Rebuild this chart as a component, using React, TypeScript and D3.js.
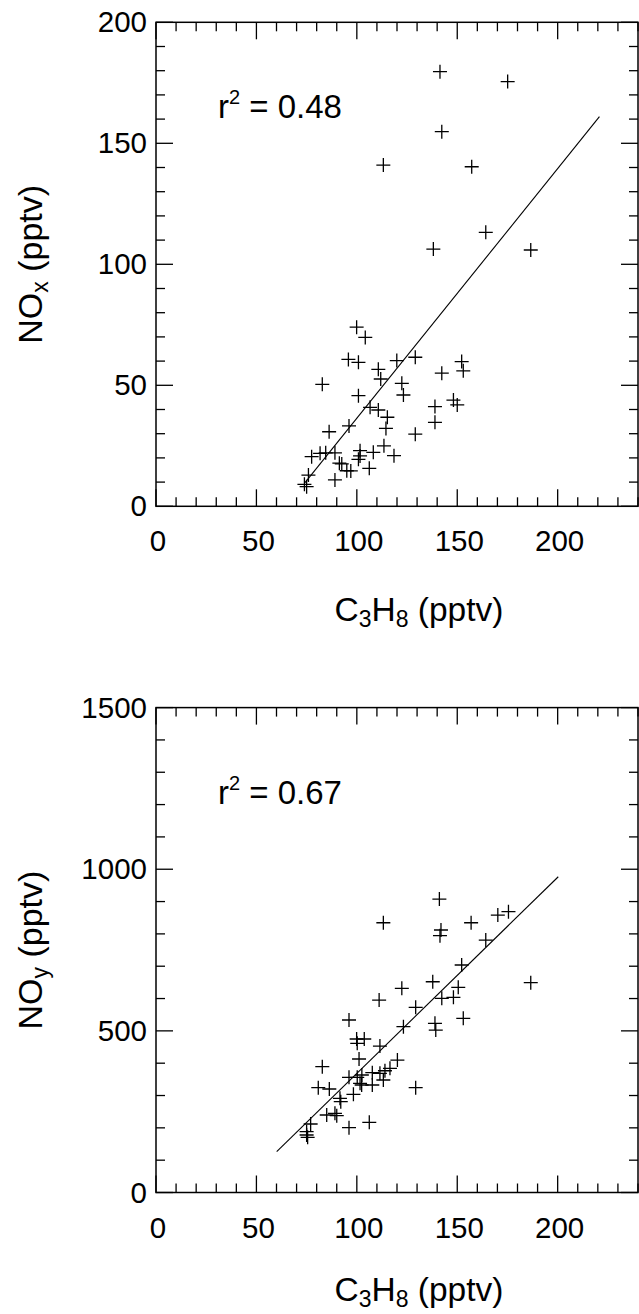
import React from "react";
import * as d3 from "d3";

// ---- data ----
const X_TICKS = [0, 50, 100, 150, 200];
const NOX_TICKS = [0, 50, 100, 150, 200];
const NOY_TICKS = [0, 500, 1000, 1500];

const c3h8A = [99.9, 104.2, 95.8, 100.8, 82.8, 110.7, 111.9, 119.9, 129.1, 122.4, 123.2, 100.8, 106.6, 110.7, 115.2, 114.5, 96.1, 86.2, 142.3, 152.2, 153.0, 138.9, 148.1, 150.0, 138.9, 129.1, 113.5, 118.5, 108.2, 101.6, 100.8, 101.6, 106.2, 97.0, 92.5, 91.3, 89.1, 84.5, 81.7, 77.5, 75.9, 73.9, 75.0, 89.1, 95.0, 141.4, 175.1, 142.3, 113.2, 157.2, 164.2, 138.1, 186.6];
const noxA = [74.0, 69.8, 60.7, 59.5, 50.4, 56.6, 52.6, 60.2, 61.6, 50.8, 46.0, 45.7, 40.9, 39.8, 36.8, 32.2, 33.2, 30.8, 55.0, 59.8, 56.0, 41.2, 43.9, 41.9, 34.7, 29.8, 25.0, 20.9, 22.3, 23.0, 19.4, 20.8, 15.7, 14.6, 17.5, 17.8, 22.1, 22.1, 21.9, 20.5, 12.9, 9.1, 8.1, 10.9, 14.7, 179.6, 175.5, 154.8, 141.0, 140.3, 113.2, 106.3, 105.9];

const c3h8B = [141.1, 113.2, 141.9, 141.4, 156.9, 170.2, 175.5, 164.2, 152.2, 137.8, 122.4, 150.5, 186.6, 111.1, 142.3, 148.1, 129.3, 153.0, 96.1, 138.9, 139.3, 123.2, 99.9, 103.7, 100.2, 111.5, 101.1, 82.8, 120.2, 116.5, 114.0, 111.5, 107.7, 102.5, 100.2, 96.1, 101.6, 107.7, 113.2, 102.4, 80.8, 86.3, 129.3, 98.3, 91.6, 92.0, 89.1, 85.0, 90.0, 77.0, 96.1, 106.2, 75.0, 75.0, 75.5];
const noyB = [907.8, 834.5, 812, 794.4, 834.5, 858.3, 868.6, 781, 703.7, 652, 631.6, 634.7, 649, 595.4, 600.6, 603.7, 572.8, 538.8, 533.6, 523.3, 502.6, 512.9, 474.8, 474.8, 461.5, 453.1, 412.9, 389.1, 409.8, 384.2, 376.7, 368.6, 370.6, 363.4, 356.3, 356.3, 337.8, 332.5, 348, 332.5, 324.2, 320.1, 324.2, 303.7, 291.4, 280.9, 245, 239.7, 237.5, 211.9, 200.4, 217.1, 188.1, 177.9, 170.7];

const fitA = [[74.2, 9.8], [220.8, 161.0]];
const fitB = [[60.1, 126.2], [200.3, 976.8]];

const FONT = "'Liberation Sans', Arial, Helvetica, sans-serif";
const LEFT = 156;
const RIGHT = 638;
const MAJ = 17;
const MIN = 9;

function Plot({ top, bottom, yMax, yTicks, yMinorStep, xs, ys, fit, r2, ySub, titleOffset }: any) {
  const x = d3.scaleLinear().domain([0, 240]).range([LEFT, RIGHT]);
  const y = d3.scaleLinear().domain([0, yMax]).range([bottom, top]);
  const xMinor = d3.range(0, 241, 10).filter((v) => !X_TICKS.includes(v));
  const yMinor = d3.range(0, yMax + 1, yMinorStep).filter((v) => !yTicks.includes(v));
  const line = d3.line<number[]>().x((d) => x(d[0])).y((d) => y(d[1]));
  const midY = (top + bottom) / 2;
  const sw = 1.3;
  return (
    <g>
      {X_TICKS.map((v) => (
        <g key={"xM" + v}>
          <line x1={x(v)} x2={x(v)} y1={bottom} y2={bottom - MAJ} stroke="#000" strokeWidth={sw} />
          <line x1={x(v)} x2={x(v)} y1={top} y2={top + MAJ} stroke="#000" strokeWidth={sw} />
          <text x={x(v) + 2} y={bottom + 45} textAnchor="middle" fontSize={29.5} fontFamily={FONT}>{v}</text>
        </g>
      ))}
      {xMinor.map((v) => (
        <g key={"xm" + v}>
          <line x1={x(v)} x2={x(v)} y1={bottom} y2={bottom - MIN} stroke="#000" strokeWidth={sw} />
          <line x1={x(v)} x2={x(v)} y1={top} y2={top + MIN} stroke="#000" strokeWidth={sw} />
        </g>
      ))}
      {yTicks.map((v: number) => (
        <g key={"yM" + v}>
          <line x1={LEFT} x2={LEFT + MAJ} y1={y(v)} y2={y(v)} stroke="#000" strokeWidth={sw} />
          <line x1={RIGHT} x2={RIGHT - MAJ} y1={y(v)} y2={y(v)} stroke="#000" strokeWidth={sw} />
          <text x={147} y={y(v) + 10} textAnchor="end" fontSize={29.5} fontFamily={FONT}>{v}</text>
        </g>
      ))}
      {yMinor.map((v: number) => (
        <g key={"ym" + v}>
          <line x1={LEFT} x2={LEFT + MIN} y1={y(v)} y2={y(v)} stroke="#000" strokeWidth={sw} />
          <line x1={RIGHT} x2={RIGHT - MIN} y1={y(v)} y2={y(v)} stroke="#000" strokeWidth={sw} />
        </g>
      ))}
      <rect x={LEFT} y={top} width={RIGHT - LEFT} height={bottom - top} fill="none" stroke="#000" strokeWidth={1.5} />
      <path d={line(fit) || ""} fill="none" stroke="#000" strokeWidth={1.1} />
      {xs.map((xv: number, i: number) => {
        const px = x(xv);
        const py = y(ys[i]);
        return <path key={"p" + i} d={`M${px - 7},${py}h14M${px},${py - 7}v14`} stroke="#000" strokeWidth={1.3} fill="none" />;
      })}
      <text x={218} y={top + 96} fontSize={33} fontFamily={FONT}>
        r<tspan fontSize={20} dy={-14}>2</tspan><tspan dy={14}> = {r2}</tspan>
      </text>
      <text transform={`translate(42,${midY}) rotate(-90)`} textAnchor="middle" fontSize={34} fontFamily={FONT}>
        NO<tspan fontSize={23} dy={6}>{ySub}</tspan><tspan dy={-6}> (pptv)</tspan>
      </text>
      <text x={419} y={bottom + titleOffset} textAnchor="middle" fontSize={33.5} fontFamily={FONT}>
        C<tspan fontSize={23} dy={6}>3</tspan><tspan dy={-6}>H</tspan><tspan fontSize={23} dy={6}>8</tspan><tspan dy={-6}> (pptv)</tspan>
      </text>
    </g>
  );
}

export default function App() {
  return (
    <svg width={639} height={1314} style={{ position: "absolute", left: 0, top: 0, background: "#fff" }}>
      <rect width={639} height={1314} fill="#fff" />
      <Plot top={22.3} bottom={506.3} yMax={200} yTicks={NOX_TICKS} yMinorStep={10} xs={c3h8A} ys={noxA} fit={fitA} r2="0.48" ySub="x" titleOffset={115} />
      <Plot top={707.6} bottom={1192.5} yMax={1500} yTicks={NOY_TICKS} yMinorStep={100} xs={c3h8B} ys={noyB} fit={fitB} r2="0.67" ySub="y" titleOffset={108} />
    </svg>
  );
}
